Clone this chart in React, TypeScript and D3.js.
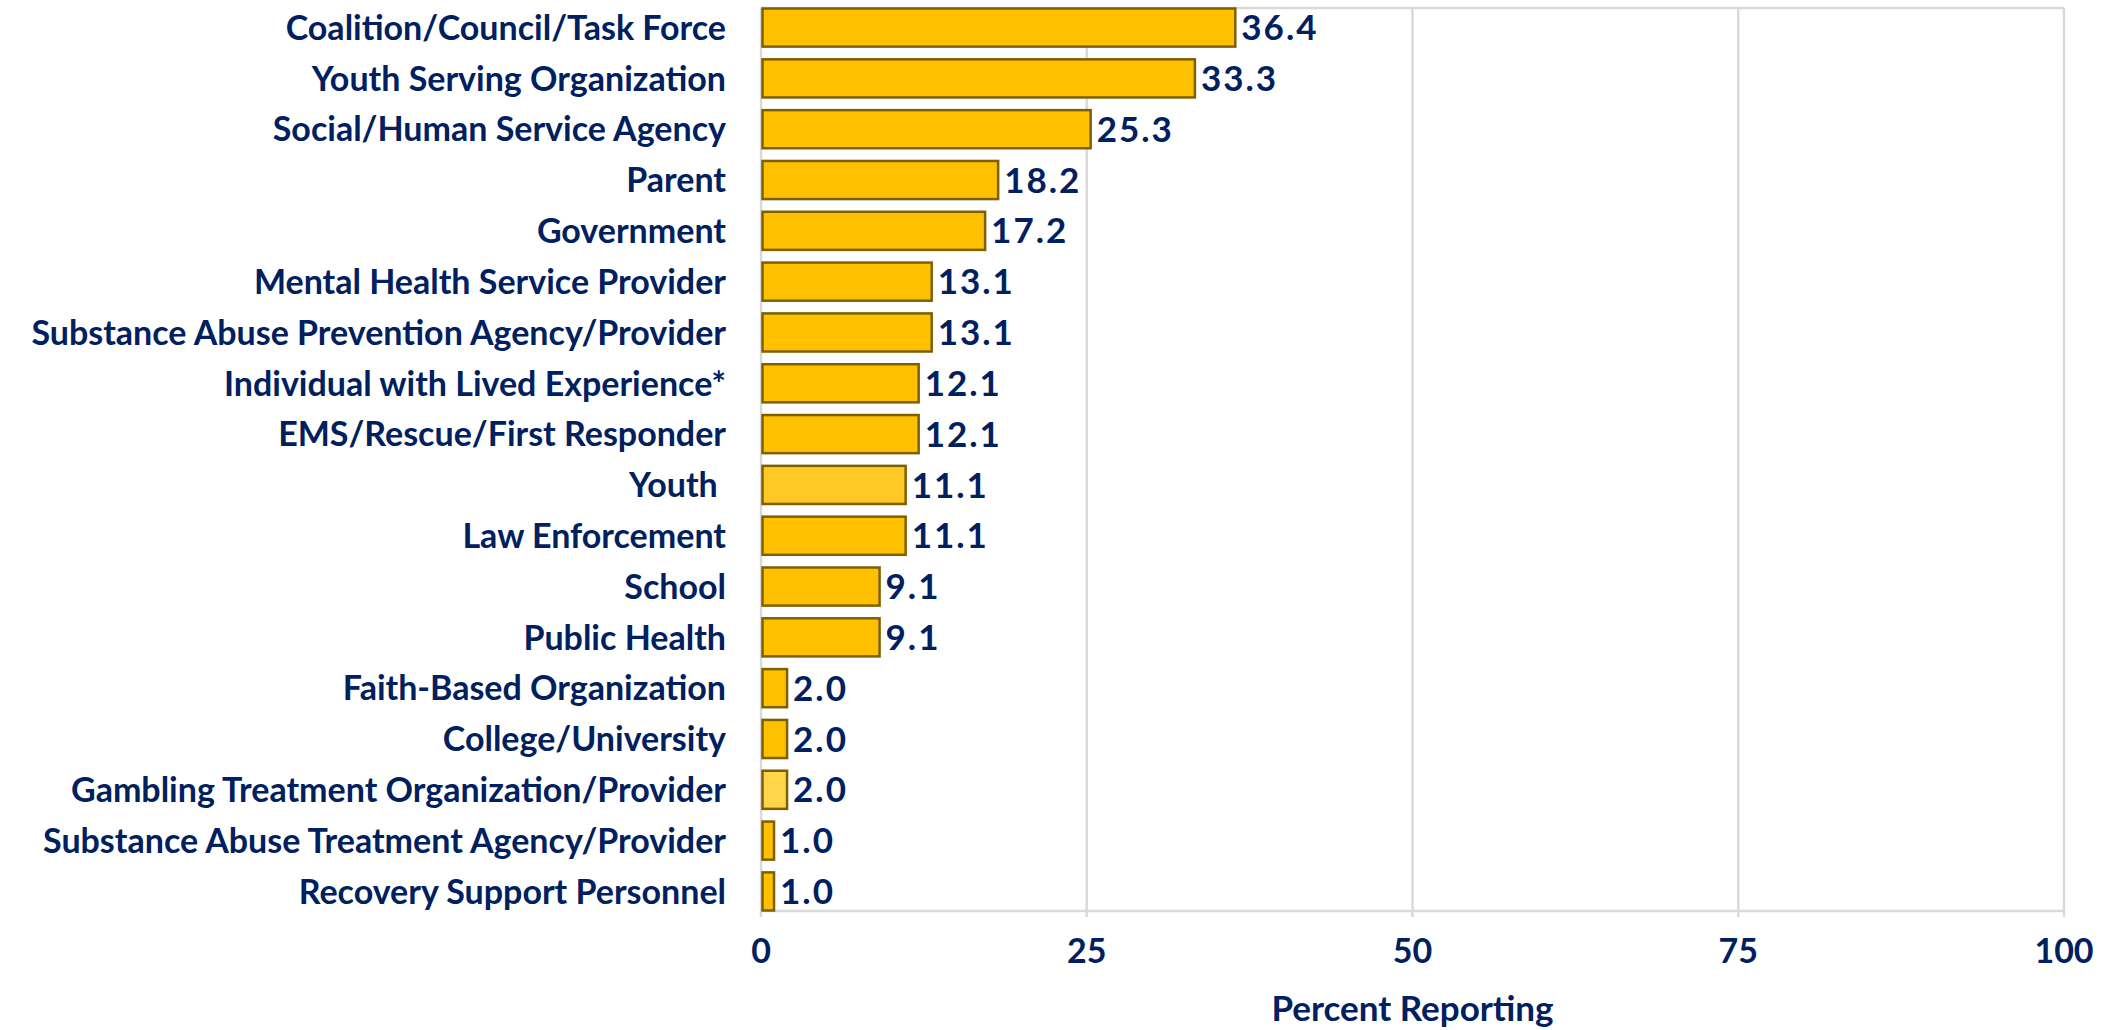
import React from "react";
import * as d3 from "d3";

const categories = [
  "Coalition/Council/Task Force",
  "Youth Serving Organization",
  "Social/Human Service Agency",
  "Parent",
  "Government",
  "Mental Health Service Provider",
  "Substance Abuse Prevention Agency/Provider",
  "Individual with Lived Experience*",
  "EMS/Rescue/First Responder",
  "Youth ",
  "Law Enforcement",
  "School",
  "Public Health",
  "Faith-Based Organization",
  "College/University",
  "Gambling Treatment Organization/Provider",
  "Substance Abuse Treatment Agency/Provider",
  "Recovery Support Personnel",
];
const values = [36.4, 33.3, 25.3, 18.2, 17.2, 13.1, 13.1, 12.1, 12.1, 11.1, 11.1, 9.1, 9.1, 2.0, 2.0, 2.0, 1.0, 1.0];
const highlighted = ["Youth ", "Gambling Treatment Organization/Provider"];
const xTicks = [0, 25, 50, 75, 100];
const xTitle = "Percent Reporting";

const W = 2123;
const H = 1030;
const left = 761;
const right = 2064;
const top = 8;
const bottom = 911;
const navy = "#002060";
const font = "Lato, 'Open Sans', sans-serif";

export default function App() {
  const x = d3.scaleLinear().domain([0, 100]).range([left, right]);
  const y = d3
    .scaleBand<string>()
    .domain(categories)
    .range([top, bottom])
    .paddingInner(0.25)
    .paddingOuter(0.01);
  const lightFill: Record<string, string> = {
    "Youth ": "#FFC825",
    "Gambling Treatment Organization/Provider": "#FFD54A",
  };
  return (
    <svg
      width={W}
      height={H}
      style={{ position: "fixed", left: 0, top: 0, background: "#fff" }}
    >
      {xTicks.map((t) => (
        <line
          key={"g" + t}
          x1={x(t)}
          x2={x(t)}
          y1={top}
          y2={bottom + 6}
          stroke="#d9d9d9"
          strokeWidth={2.5}
        />
      ))}
      <line x1={left} x2={right} y1={top} y2={top} stroke="#d9d9d9" strokeWidth={2.5} />
      <line x1={left} x2={right} y1={bottom} y2={bottom} stroke="#d9d9d9" strokeWidth={2.5} />
      {categories.map((c, i) => {
        const yy = y(c)!;
        const bh = y.bandwidth();
        const fill = highlighted.includes(c) ? lightFill[c] : "#FFC000";
        return (
          <g key={c}>
            <rect
              x={x(0) + 1.5}
              y={yy}
              width={x(values[i]) - x(0) - 1.5}
              height={bh}
              fill={fill}
              stroke="#7F6000"
              strokeWidth={2.5}
            />
            <text
              x={x(values[i]) + 6}
              y={yy + bh / 2}
              dy="0.36em"
              fontFamily={font}
              fontWeight={700}
              fontSize={35}
              letterSpacing={2}
              fill={navy}
            >
              {values[i].toFixed(1)}
            </text>
            <text
              x={726}
              y={yy + bh / 2}
              dy="0.36em"
              textAnchor="end"
              fontFamily={font}
              fontWeight={700}
              fontSize={34}
              fill={navy}
              style={{ whiteSpace: "pre" }}
            >
              {c}
            </text>
          </g>
        );
      })}
      {xTicks.map((t) => (
        <text
          key={"t" + t}
          x={x(t)}
          y={963}
          textAnchor="middle"
          fontFamily={font}
          fontWeight={700}
          fontSize={34}
          fill={navy}
        >
          {t}
        </text>
      ))}
      <text
        x={(left + right) / 2}
        y={1021}
        textAnchor="middle"
        fontFamily={font}
        fontWeight={700}
        fontSize={35}
        fill={navy}
      >
        {xTitle}
      </text>
    </svg>
  );
}
